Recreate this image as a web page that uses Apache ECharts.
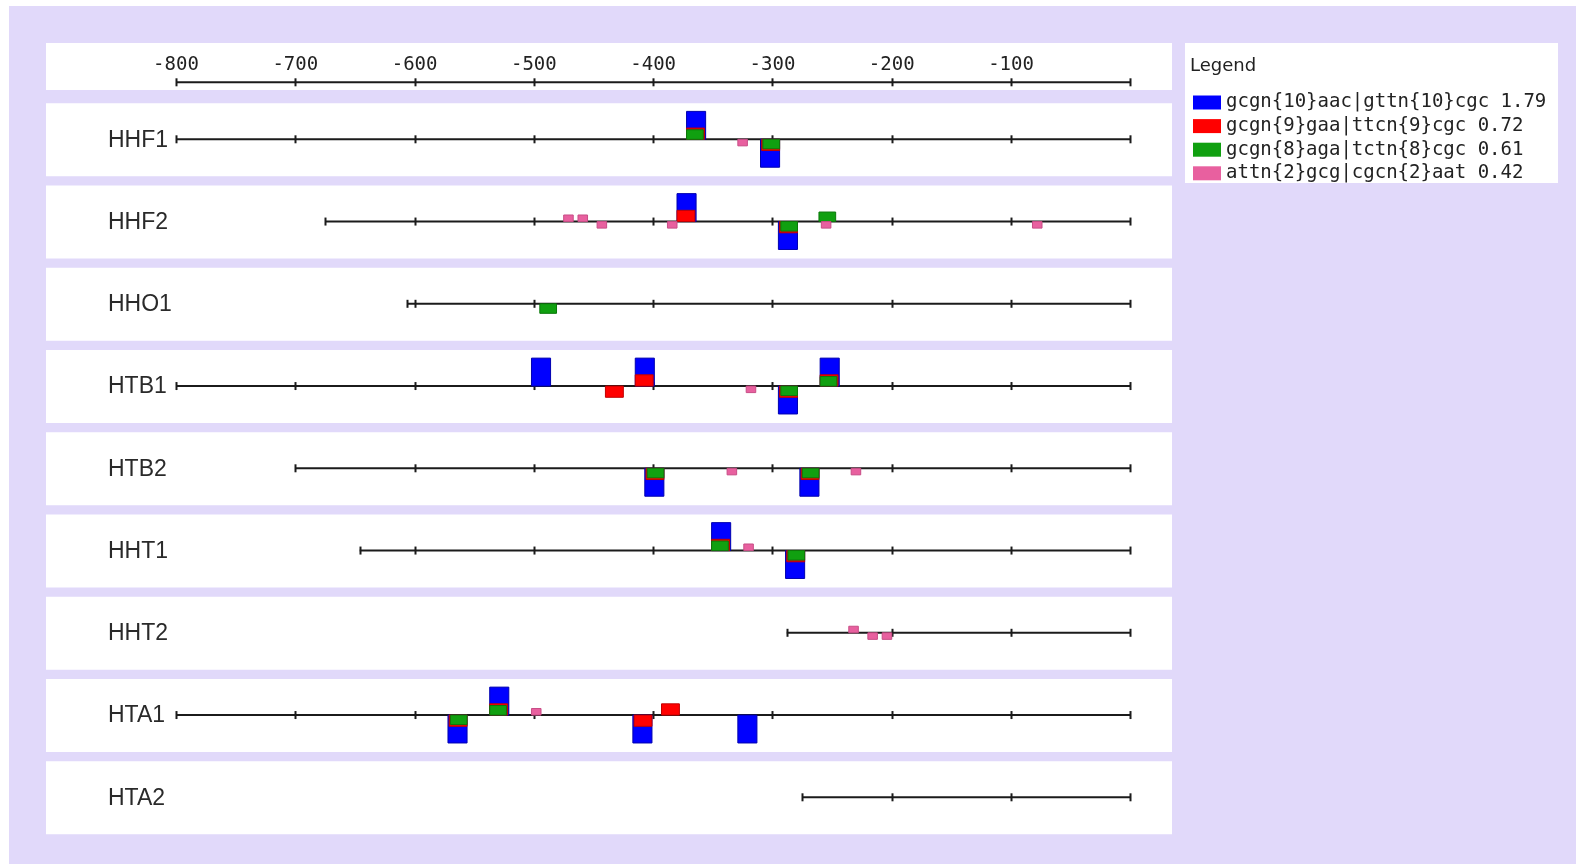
<!DOCTYPE html>
<html>
<head>
<meta charset="utf-8">
<script src="https://cdn.jsdelivr.net/npm/echarts@6/dist/echarts.min.js"></script>
<style>
html,body{margin:0;padding:0;background:#ffffff;}
#chart{width:1576px;height:864px;}
</style>
</head>
<body>
<div id="chart"></div>
<script>
// ---- data ----
const rowNames = ['HHF1','HHF2','HHO1','HTB1','HTB2','HHT1','HHT2','HTA1','HTA2'];
const rowStarts = [-800, -675, -606, -800, -700, -646, -288, -800, -275];
const axisMin = -800, axisMax = 0, axisStep = 100;

const motifNames = [
  'gcgn{10}aac|gttn{10}cgc 1.79',
  'gcgn{9}gaa|ttcn{9}cgc 0.72',
  'gcgn{8}aga|tctn{8}cgc 0.61',
  'attn{2}gcg|cgcn{2}aat 0.42'
];
const motifScores = [1.79, 0.72, 0.61, 0.42];
const motifLengths = [16, 15, 14, 8];
const motifColors = ['#0000ff', '#ff0000', '#10a010', '#e8609f'];
const motifStrokes = ['#0000b0', '#c00000', '#0a780a', '#c84d86'];

// sites: [left position, row index, strand (+1 above / -1 below)]
const blueSites = [
  [-372,0, 1],[-310,0,-1],
  [-380,1, 1],[-295,1,-1],
  [-502,3, 1],[-415,3, 1],[-295,3,-1],[-260,3, 1],
  [-407,4,-1],[-277,4,-1],
  [-351,5, 1],[-289,5,-1],
  [-572,7,-1],[-537,7, 1],[-417,7,-1],[-329,7,-1]
];
const redSites = [
  [-372,0, 1],[-309,0,-1],
  [-380,1, 1],[-294,1,-1],
  [-440,3,-1],[-415,3, 1],[-294,3,-1],[-260,3, 1],
  [-406,4,-1],[-276,4,-1],
  [-351,5, 1],[-288,5,-1],
  [-571,7,-1],[-537,7, 1],[-416,7,-1],[-393,7, 1]
];
const greenSites = [
  [-372,0, 1],[-308,0,-1],
  [-261,1, 1],[-293,1,-1],
  [-495,2,-1],
  [-293,3,-1],[-260,3, 1],
  [-405,4,-1],[-275,4,-1],
  [-351,5, 1],[-287,5,-1],
  [-570,7,-1],[-537,7, 1]
];
const pinkSites = [
  [-329,0,-1],
  [-475,1, 1],[-463,1, 1],[-447,1,-1],[-388,1,-1],[-259,1,-1],[-82,1,-1],
  [-322,3,-1],
  [-338,4,-1],[-234,4,-1],
  [-324,5, 1],
  [-236,6, 1],[-220,6,-1],[-208,6,-1],
  [-502,7, 1]
];
const motifSites = [blueSites, redSites, greenSites, pinkSites];

// ---- layout ----
const gridTop = 82.3, gridBottomPx = 797.3;
const rowPitch = 82.25;
const firstRowPx = 139.3;
const topAxisRow = -(firstRowPx - gridTop) / rowPitch; // y value of the top scale line
const pxPerScore = 15.6;
const tickHalf = 4;

const chart = echarts.init(document.getElementById('chart'));

function frameItem(params, api) {
  const start = api.value(0);
  const row = api.value(1);
  const isTop = api.value(2) === 1;
  const y = api.coord([0, row])[1];
  const xs = api.coord([start, row])[0];
  const xe = api.coord([axisMax, row])[0];
  const children = [];
  children.push({type:'line', shape:{x1:xs, y1:y, x2:xe, y2:y},
    style:{stroke:'#1b1b1b', lineWidth:2}});
  const ticks = [start];
  for (let v = axisMin; v <= axisMax; v += axisStep) {
    if (v > start) ticks.push(v);
  }
  ticks.forEach(v => {
    const tx = Math.round(api.coord([v, row])[0]) + 0.5;
    children.push({type:'line', shape:{x1:tx, y1:y - tickHalf, x2:tx, y2:y + tickHalf},
      style:{stroke:'#1b1b1b', lineWidth:2}});
  });
  if (!isTop) {
    children.push({type:'text', style:{
      text: rowNames[row], x: 108, y: y + 1,
      fill:'#2a2a2a', fontFamily:'Liberation Sans', fontSize:23,
      align:'left', verticalAlign:'middle'
    }});
  }
  return {type:'group', children};
}

function motifRenderer(m) {
  return function (params, api) {
    const s = api.value(0), r = api.value(1), st = api.value(2);
    const p0 = api.coord([s, r]);
    const p1 = api.coord([s + motifLengths[m], r]);
    const h = motifScores[m] * pxPerScore;
    return {
      type:'rect',
      shape:{x:p0[0], y: st > 0 ? p0[1] - h : p0[1], width:p1[0] - p0[0], height:h},
      style:{fill:motifColors[m], stroke:motifStrokes[m], lineWidth:1}
    };
  };
}

const frameData = rowNames.map((n, i) => [rowStarts[i], i, 0]);
frameData.push([axisMin, topAxisRow, 1]);

// panels
const graphics = [];
graphics.push({type:'rect', shape:{x:9, y:6, width:1576 - 9, height:864 - 6}, style:{fill:'#e1d9fa'}, z:-10});
graphics.push({type:'rect', shape:{x:46, y:43, width:1126, height:47}, style:{fill:'#ffffff'}, z:-9});
rowNames.forEach((n, i) => {
  graphics.push({type:'rect', shape:{x:46, y:firstRowPx - 36 + rowPitch * i, width:1126, height:73},
    style:{fill:'#ffffff'}, z:-9});
});
graphics.push({type:'rect', shape:{x:1185, y:43, width:373, height:140}, style:{fill:'#ffffff'}, z:-9});

const series = [{
  type:'custom', name:'frame', renderItem: frameItem, data: frameData,
  encode:{x:0, y:1}, clip:false, silent:true, z:1
}];
motifNames.forEach((name, m) => {
  series.push({
    type:'custom', name, renderItem: motifRenderer(m), data: motifSites[m],
    encode:{x:0, y:1}, clip:false, z:2 + m,
    itemStyle:{color:motifColors[m]}
  });
});

chart.setOption({
  animation:false,
  backgroundColor:'#ffffff',
  title:{text:'Legend', left:1190, top:57, padding:0,
    textStyle:{fontFamily:'DejaVu Sans', fontSize:18, fontWeight:'normal', color:'#222222'}},
  legend:{
    data: motifNames, orient:'vertical', left:1193, top:93, padding:0,
    itemWidth:28, itemHeight:14, itemGap:4.6, icon:'rect', selectedMode:false,
    textStyle:{fontFamily:'DejaVu Sans Mono', fontSize:19, lineHeight:19, color:'#222222'}
  },
  graphic: graphics,
  grid:{left:176, right:1576 - 1130.3, top:gridTop, bottom:864 - gridBottomPx},
  xAxis:{
    type:'value', min:axisMin, max:axisMax, interval:axisStep, position:'top',
    axisLine:{show:false}, axisTick:{show:false}, splitLine:{show:false},
    axisLabel:{margin:8, fontFamily:'DejaVu Sans Mono', fontSize:19, color:'#222222',
      formatter: v => v === 0 ? '' : String(v)}
  },
  yAxis:{type:'value', inverse:true, min:topAxisRow, max:rowNames.length - 1, show:false},
  series
});
</script>
</body>
</html>
